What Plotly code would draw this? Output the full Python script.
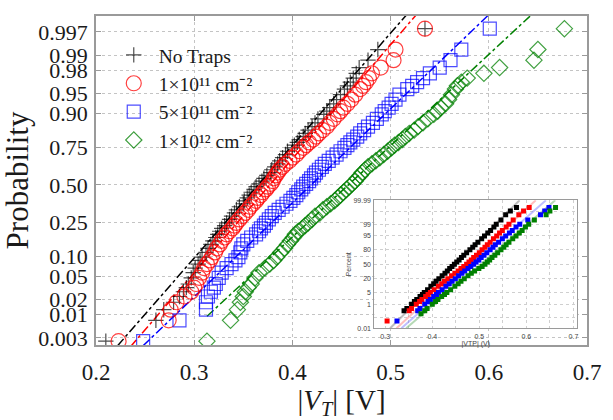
import plotly.graph_objects as go
from statistics import NormalDist

ND = NormalDist()

# ---------------- main chart data (sorted |V_T| values, volts) ----------------
N_SAMPLES = 200
RANKS = [1, 2, 3, 4, 5, 6, 7, 8, 10, 12, 14, 16, 18, 20, 23, 26, 29, 32, 35, 38,
         41, 44, 47, 50, 54, 58, 62, 66, 70, 74, 78, 82, 86, 90, 94, 98, 102, 106,
         110, 114, 118, 122, 126, 130, 134, 138, 142, 146, 150, 153, 156, 159, 162,
         165, 168, 171, 174, 177, 180, 182, 184, 186, 188, 190, 192, 193, 194, 195,
         196, 197, 198, 199, 200]

VT_NO_TRAPS = [0.210, 0.261, 0.269, 0.279, 0.285, 0.289, 0.292, 0.294, 0.297, 0.299,
               0.301, 0.304, 0.306, 0.308, 0.312, 0.314, 0.317, 0.319, 0.322, 0.324,
               0.326, 0.328, 0.331, 0.333, 0.336, 0.338, 0.341, 0.343, 0.346, 0.350,
               0.351, 0.354, 0.356, 0.358, 0.361, 0.363, 0.366, 0.369, 0.371, 0.374,
               0.378, 0.379, 0.382, 0.385, 0.387, 0.390, 0.393, 0.395, 0.400, 0.402,
               0.405, 0.407, 0.411, 0.413, 0.416, 0.420, 0.423, 0.426, 0.432, 0.435,
               0.438, 0.442, 0.445, 0.449, 0.453, 0.456, 0.459, 0.462, 0.465, 0.468,
               0.477, 0.487, 0.535]
VT_1E11 = [0.223, 0.274, 0.276, 0.282, 0.290, 0.297, 0.300, 0.302, 0.305, 0.308,
           0.310, 0.313, 0.316, 0.318, 0.321, 0.323, 0.326, 0.328, 0.331, 0.333,
           0.336, 0.339, 0.341, 0.343, 0.346, 0.349, 0.352, 0.355, 0.357, 0.360,
           0.363, 0.365, 0.368, 0.370, 0.373, 0.375, 0.378, 0.380, 0.381, 0.383,
           0.385, 0.387, 0.390, 0.393, 0.397, 0.400, 0.404, 0.407, 0.411, 0.414,
           0.417, 0.421, 0.424, 0.427, 0.431, 0.435, 0.438, 0.442, 0.446, 0.449,
           0.452, 0.456, 0.460, 0.464, 0.469, 0.472, 0.475, 0.478, 0.481, 0.490,
           0.503, 0.505, 0.535]
VT_5E11 = [0.248, 0.285, 0.312, 0.312, 0.314, 0.317, 0.320, 0.322, 0.325, 0.328,
           0.333, 0.338, 0.342, 0.345, 0.347, 0.348, 0.350, 0.354, 0.358, 0.363,
           0.366, 0.368, 0.371, 0.373, 0.376, 0.379, 0.382, 0.386, 0.390, 0.394,
           0.398, 0.401, 0.404, 0.406, 0.409, 0.411, 0.414, 0.417, 0.419, 0.422,
           0.424, 0.427, 0.430, 0.433, 0.437, 0.441, 0.445, 0.449, 0.453, 0.456,
           0.459, 0.462, 0.466, 0.469, 0.473, 0.477, 0.482, 0.486, 0.491, 0.494,
           0.498, 0.501, 0.505, 0.509, 0.517, 0.522, 0.527, 0.533, 0.540, 0.550,
           0.561, 0.572, 0.601]
VT_1E12 = [0.313, 0.337, 0.344, 0.347, 0.350, 0.352, 0.355, 0.358, 0.362, 0.366,
           0.372, 0.377, 0.381, 0.384, 0.388, 0.392, 0.395, 0.398, 0.401, 0.403,
           0.406, 0.410, 0.413, 0.416, 0.420, 0.423, 0.428, 0.431, 0.435, 0.439,
           0.443, 0.446, 0.449, 0.452, 0.455, 0.458, 0.461, 0.464, 0.466, 0.469,
           0.471, 0.474, 0.477, 0.481, 0.485, 0.489, 0.493, 0.497, 0.501, 0.504,
           0.508, 0.512, 0.515, 0.519, 0.524, 0.528, 0.533, 0.538, 0.544, 0.548,
           0.551, 0.556, 0.559, 0.562, 0.566, 0.568, 0.572, 0.578, 0.595, 0.611,
           0.646, 0.650, 0.677]

SERIES_NAMES = ["No Traps", "1×10¹¹ cm⁻²", "5×10¹¹ cm⁻²", "1×10¹² cm⁻²"]
# normal fit of each series (mean, sigma) in volts
FIT_MEAN = [0.365, 0.377, 0.419, 0.457]
FIT_SIGMA = [0.0495, 0.0488, 0.0592, 0.0610]

X_TICKS = [0.2, 0.3, 0.4, 0.5, 0.6, 0.7]
Y_TICK_P = [0.003, 0.01, 0.02, 0.05, 0.10, 0.25, 0.50, 0.75, 0.90, 0.95, 0.98, 0.99, 0.997]
Y_TICK_TEXT = ["0.003", "0.01", "0.02", "0.05", "0.10", "0.25", "0.50", "0.75",
               "0.90", "0.95", "0.98", "0.99", "0.997"]

# ---------------- inset data ----------------
INSET_PCT = [0.05, 0.1, 0.2, 0.35, 0.5, 1, 1.5, 2, 3, 4, 5, 7, 10, 13, 16, 20, 25, 30,
             35, 40, 45, 50, 55, 60, 65, 70, 75, 80, 84, 87, 90, 93, 95, 96.5, 97.5,
             98.5, 99, 99.5, 99.8, 99.9, 99.95]
INSET_BLACK = [None, None, None, 0.340, 0.346, 0.356, 0.362, 0.367, 0.374, 0.379, 0.383,
               0.390, 0.397, 0.403, 0.408, 0.414, 0.421, 0.427, 0.432, 0.437, 0.442,
               0.447, 0.452, 0.457, 0.462, 0.467, 0.473, 0.480, 0.486, 0.491, 0.497,
               0.505, 0.511, 0.518, 0.524, 0.531, 0.536, 0.546, 0.556, 0.566, 0.579]
INSET_RED = [0.304, None, None, 0.351, 0.356, 0.366, 0.373, 0.378, 0.386, 0.391, 0.396,
             0.404, 0.413, 0.420, 0.426, 0.433, 0.441, 0.448, 0.455, 0.461, 0.467,
             0.473, 0.478, 0.483, 0.488, 0.494, 0.500, 0.506, 0.512, 0.517, 0.523,
             0.530, 0.537, 0.543, 0.549, 0.557, 0.563, 0.572, 0.584, 0.594, 0.606]
INSET_BLUE = [0.325, None, None, 0.369, 0.374, 0.384, 0.391, 0.396, 0.403, 0.409, 0.413,
              0.421, 0.429, 0.436, 0.442, 0.449, 0.456, 0.463, 0.469, 0.476, 0.482,
              0.488, 0.493, 0.499, 0.504, 0.510, 0.516, 0.523, 0.529, 0.534, 0.541,
              0.549, 0.556, 0.564, 0.570, 0.578, 0.586, 0.603, 0.630, 0.639, 0.648]
INSET_GREEN = [None, None, 0.376, 0.384, 0.389, 0.400, 0.407, 0.412, 0.420, 0.426, 0.431,
               0.439, 0.448, 0.455, 0.461, 0.468, 0.476, 0.483, 0.490, 0.499, 0.506,
               0.512, 0.517, 0.522, 0.527, 0.533, 0.539, 0.546, 0.552, 0.557, 0.563,
               0.571, 0.578, 0.585, 0.591, 0.598, 0.605, 0.617, 0.642, 0.650, 0.662]
INSET_FIT_MEAN = [0.448, 0.472, 0.488, 0.503]
INSET_FIT_SIGMA = [0.0370, 0.0398, 0.0413, 0.0426]
INSET_X_TICKS = [0.3, 0.35, 0.4, 0.45, 0.5, 0.55, 0.6, 0.65, 0.7]
INSET_X_TEXT = ["0.3", "", "0.4", "", "0.5", "", "0.6", "", "0.7"]
INSET_Y_PCT = [0.01, 0.1, 1, 5, 20, 50, 80, 95, 99, 99.9, 99.99]
INSET_Y_TEXT = ["0.01", "", "1", "5", "20", "50", "80", "95", "99", "", "99.99"]

# ---------------- styling ----------------
MAIN_COLORS = ["rgba(0,0,0,0.7)", "rgba(255,0,0,0.75)", "rgba(0,0,255,0.7)", "rgba(0,128,0,0.75)"]
LINE_COLORS = ["black", "red", "blue", "green"]
SYMBOLS = ["cross-thin-open", "circle-open", "square-open", "diamond-open"]
SIZES = [11, 15, 13, 12.5]
INSET_COLORS = ["black", "red", "blue", "green"]
INSET_LINE_COLORS = ["rgba(110,110,110,0.45)", "rgba(255,110,110,0.45)",
                     "rgba(110,110,255,0.45)", "rgba(90,170,90,0.45)"]

main_series = [VT_NO_TRAPS, VT_1E11, VT_5E11, VT_1E12]
for s in main_series:
    assert len(s) == len(RANKS)
z_main = [ND.inv_cdf((r - 0.5) / N_SAMPLES) for r in RANKS]

fig = go.Figure()

# fitted lines (dash-dot), spanning the data range
for i, vals in enumerate(main_series):
    xs = [min(vals), max(vals)]
    zs = [(x - FIT_MEAN[i]) / FIT_SIGMA[i] for x in xs]
    fig.add_trace(go.Scatter(x=xs, y=zs, mode="lines", showlegend=False, hoverinfo="skip",
                             line=dict(color=LINE_COLORS[i], width=1.5, dash="dashdot")))

for i, vals in enumerate(main_series):
    fig.add_trace(go.Scatter(
        x=vals, y=z_main, mode="markers", name=SERIES_NAMES[i],
        marker=dict(symbol=SYMBOLS[i], size=SIZES[i], color=MAIN_COLORS[i],
                    line=dict(color=MAIN_COLORS[i], width=1.2))))

# inset
inset_series = [INSET_BLACK, INSET_RED, INSET_BLUE, INSET_GREEN]
z_inset = [ND.inv_cdf(p / 100.0) for p in INSET_PCT]
z_lim = ND.inv_cdf(0.9999)
for i in range(4):
    xs = [INSET_FIT_MEAN[i] - z_lim * INSET_FIT_SIGMA[i], INSET_FIT_MEAN[i] + z_lim * INSET_FIT_SIGMA[i]]
    fig.add_trace(go.Scatter(x=xs, y=[-z_lim, z_lim], xaxis="x2", yaxis="y2", mode="lines",
                             showlegend=False, hoverinfo="skip",
                             line=dict(color=INSET_LINE_COLORS[i], width=2)))
for i, vals in enumerate(inset_series):
    xs = [v for v in vals if v is not None]
    zs = [z for v, z in zip(vals, z_inset) if v is not None]
    fig.add_trace(go.Scatter(x=xs, y=zs, xaxis="x2", yaxis="y2", mode="markers",
                             showlegend=False,
                             marker=dict(symbol="square", size=5, color=INSET_COLORS[i],
                                         line=dict(width=0))))

frame = "#9a9a9a"
grid = "#c4c4c4"
fig.update_layout(
    width=613, height=420,
    margin=dict(l=96, r=16, t=16, b=70),
    paper_bgcolor="white", plot_bgcolor="white",
    font=dict(family="Liberation Serif", color="#1a1a1a"),
    showlegend=True,
    legend=dict(x=0.026, y=0.94, xanchor="left", yanchor="top", bgcolor="rgba(0,0,0,0)",
                font=dict(size=19.5, family="Liberation Serif", color="#1a1a1a"),
                itemwidth=40, tracegroupgap=0),
    xaxis=dict(domain=[0, 1], anchor="y", range=[0.2, 0.7], tickvals=X_TICKS,
               ticktext=[f"{v:.1f}" for v in X_TICKS],
               ticks="inside", ticklen=5, tickcolor=frame, showline=True, linecolor=frame,
               linewidth=1.5, mirror="allticks", showgrid=True, gridcolor=grid, griddash="dot",
               zeroline=False, tickfont=dict(size=23), ticklabelstandoff=6,
               title=dict(text="|<i>V</i><sub><i>T</i></sub>| [V]", font=dict(size=29), standoff=2)),
    yaxis=dict(domain=[0, 1], anchor="x", range=[-2.876, 3.035],
               tickvals=[ND.inv_cdf(p) for p in Y_TICK_P], ticktext=Y_TICK_TEXT,
               ticks="inside", ticklen=5, tickcolor=frame, showline=True, linecolor=frame,
               linewidth=1.5, mirror="allticks", showgrid=True, gridcolor=grid, griddash="dot",
               zeroline=False, tickfont=dict(size=22), ticklabelstandoff=2,
               title=dict(text="Probability", font=dict(size=31), standoff=4)),
    xaxis2=dict(domain=[0.567, 0.980], anchor="y2", range=[0.277, 0.708],
                tickvals=INSET_X_TICKS, ticktext=INSET_X_TEXT, ticks="",
                showline=True, linecolor=frame, linewidth=1, mirror=True,
                showgrid=True, gridcolor="#cfcfcf", griddash="dot", zeroline=False,
                tickfont=dict(size=7, family="Liberation Sans", color="#444"),
                ticklabelstandoff=1,
                title=dict(text="|VTP| (V)", font=dict(size=7, family="Liberation Sans", color="#444"),
                           standoff=1)),
    yaxis2=dict(domain=[0.0509, 0.440], anchor="x2", range=[-3.719, 3.719],
                tickvals=[ND.inv_cdf(p / 100.0) for p in INSET_Y_PCT], ticktext=INSET_Y_TEXT,
                ticks="", showline=True, linecolor=frame, linewidth=1, mirror=True,
                showgrid=True, gridcolor="#cfcfcf", griddash="dot", zeroline=False,
                tickfont=dict(size=7, family="Liberation Sans", color="#444"),
                ticklabelstandoff=1,
                title=dict(text="Percent", font=dict(size=7, family="Liberation Sans", color="#444"),
                           standoff=1)),
    shapes=[dict(type="rect", xref="x2 domain", yref="y2 domain", x0=0, x1=1, y0=0, y1=1,
                 fillcolor="white", line=dict(width=0), layer="below")],
)

fig.write_html("out.html")
